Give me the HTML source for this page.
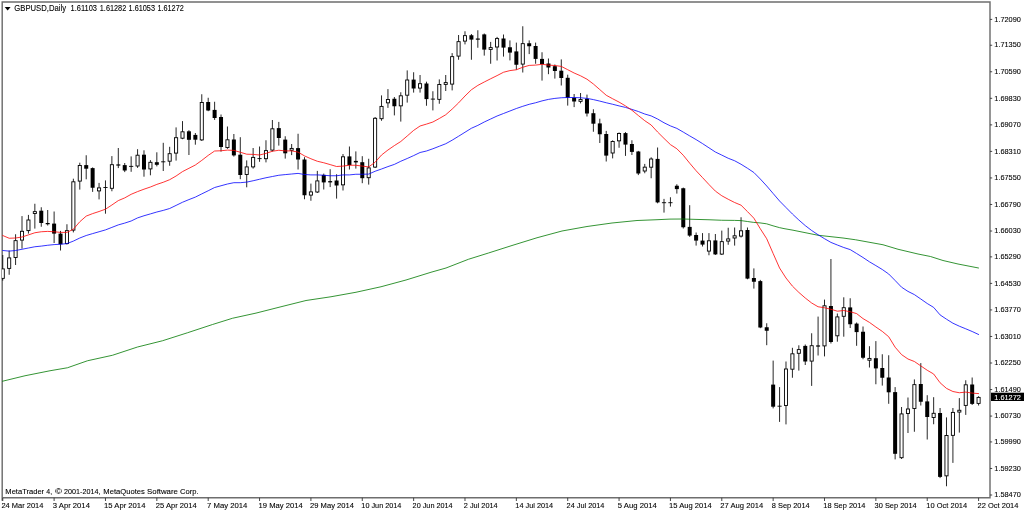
<!DOCTYPE html>
<html><head><meta charset="utf-8"><title>GBPUSD,Daily</title>
<style>
html,body{margin:0;padding:0;background:#fff;overflow:hidden}
svg{display:block}
text{font-family:"Liberation Sans",sans-serif;font-size:8px;fill:#000;stroke:#000;stroke-width:0.1px}
</style></head><body>
<svg width="1024" height="512" viewBox="0 0 1024 512">
<rect x="0" y="0" width="1024" height="512" fill="#fff"/>
<defs><clipPath id="c"><rect x="1.75" y="2.00" width="988.25" height="495.80"/></clipPath></defs>
<g fill="none" stroke="#6e6e6e" stroke-width="1.45">
<path d="M2.20 500.80V2.00H990.00V497.80H1.60"/>
</g>
<g clip-path="url(#c)" fill="none" stroke-linejoin="round" stroke-linecap="round">
<g stroke="#000" stroke-width="0.85" stroke-linecap="butt">
<path d="M2.75 255.00V280.60"/><path d="M9.17 250.50V274.75"/><path d="M15.59 234.25V265.00"/><path d="M22.01 216.10V248.60"/><path d="M28.43 214.90V233.60"/><path d="M34.85 203.75V228.60"/><path d="M41.27 207.25V226.75"/><path d="M47.69 210.00V225.50"/><path d="M54.11 211.50V243.00"/><path d="M60.53 230.90V250.50"/><path d="M66.95 224.25V244.50"/><path d="M73.37 178.70V232.40"/><path d="M79.79 162.70V189.60"/><path d="M86.21 155.25V179.30"/><path d="M92.63 167.40V191.90"/><path d="M99.05 182.90V199.40"/><path d="M105.47 180.40V213.70"/><path d="M111.89 156.10V191.25"/><path d="M118.31 148.00V168.10"/><path d="M124.73 163.00V172.10"/><path d="M131.15 156.40V171.80"/><path d="M137.57 149.20V167.90"/><path d="M143.99 150.30V176.70"/><path d="M150.41 160.10V175.30"/><path d="M156.83 152.30V166.40"/><path d="M163.25 142.80V171.00"/><path d="M169.67 146.80V165.75"/><path d="M176.09 127.40V160.60"/><path d="M182.51 121.10V139.20"/><path d="M188.93 130.20V155.00"/><path d="M195.35 133.00V144.70"/><path d="M201.77 94.25V141.00"/><path d="M208.19 97.75V111.20"/><path d="M214.61 101.75V119.90"/><path d="M221.03 114.50V151.60"/><path d="M227.45 126.50V148.80"/><path d="M233.87 134.00V156.60"/><path d="M240.29 137.20V179.20"/><path d="M246.71 160.40V187.30"/><path d="M253.13 148.00V168.60"/><path d="M259.55 146.50V161.80"/><path d="M265.97 140.25V162.40"/><path d="M272.39 120.00V151.50"/><path d="M278.81 121.90V145.60"/><path d="M285.23 136.25V158.60"/><path d="M291.65 144.00V155.10"/><path d="M298.07 133.75V169.50"/><path d="M304.49 157.20V199.25"/><path d="M310.91 183.60V200.75"/><path d="M317.33 170.90V193.00"/><path d="M323.75 173.60V189.50"/><path d="M330.17 169.25V187.10"/><path d="M336.59 174.25V198.60"/><path d="M343.01 154.00V190.50"/><path d="M349.43 146.50V169.50"/><path d="M355.85 151.40V168.60"/><path d="M362.27 156.20V183.20"/><path d="M368.69 158.75V184.60"/><path d="M375.11 117.00V168.00"/><path d="M381.53 95.40V120.75"/><path d="M387.95 89.10V107.90"/><path d="M394.37 97.00V115.40"/><path d="M400.79 92.25V121.60"/><path d="M407.21 70.40V102.60"/><path d="M413.63 72.25V92.60"/><path d="M420.05 75.00V92.60"/><path d="M426.47 81.70V105.75"/><path d="M432.89 91.25V110.40"/><path d="M439.31 79.40V103.75"/><path d="M445.73 75.00V91.00"/><path d="M452.15 53.10V90.40"/><path d="M458.57 35.00V59.75"/><path d="M464.99 31.25V44.40"/><path d="M471.41 34.00V59.75"/><path d="M477.83 30.25V47.75"/><path d="M484.25 33.50V55.60"/><path d="M490.67 41.90V63.75"/><path d="M497.09 36.90V60.50"/><path d="M503.51 34.50V56.60"/><path d="M509.93 40.40V60.40"/><path d="M516.35 42.60V69.75"/><path d="M522.77 26.25V72.50"/><path d="M529.19 40.40V54.10"/><path d="M535.61 42.60V63.75"/><path d="M542.03 52.25V80.60"/><path d="M548.45 58.50V74.20"/><path d="M554.87 64.50V78.60"/><path d="M561.29 59.40V85.50"/><path d="M567.71 74.70V105.60"/><path d="M574.13 94.00V107.10"/><path d="M580.55 93.00V103.40"/><path d="M586.97 94.60V116.50"/><path d="M593.39 109.25V131.75"/><path d="M599.81 118.70V143.00"/><path d="M606.23 130.90V161.50"/><path d="M612.65 140.30V158.40"/><path d="M619.07 132.50V147.75"/><path d="M625.49 132.10V155.90"/><path d="M631.91 140.25V155.00"/><path d="M638.33 150.90V175.10"/><path d="M644.75 163.90V173.25"/><path d="M651.17 157.30V178.25"/><path d="M657.59 147.50V203.30"/><path d="M664.01 198.90V212.60"/><path d="M670.43 197.25V206.60"/><path d="M676.85 184.25V193.60"/><path d="M683.27 187.60V228.50"/><path d="M689.69 205.20V236.90"/><path d="M696.11 232.50V245.60"/><path d="M702.53 233.10V246.50"/><path d="M708.95 233.10V255.25"/><path d="M715.37 234.00V255.00"/><path d="M721.79 230.60V255.00"/><path d="M728.21 227.75V244.75"/><path d="M734.63 227.50V245.60"/><path d="M741.05 217.25V237.50"/><path d="M747.47 227.50V279.25"/><path d="M753.89 268.40V288.60"/><path d="M760.31 279.90V328.20"/><path d="M766.73 323.25V345.20"/><path d="M773.15 360.60V408.40"/><path d="M779.57 387.10V421.90"/><path d="M785.99 361.50V424.40"/><path d="M792.41 347.80V377.75"/><path d="M798.83 345.30V370.60"/><path d="M805.25 344.50V365.00"/><path d="M811.67 333.25V385.90"/><path d="M818.09 316.60V355.50"/><path d="M824.51 299.60V356.40"/><path d="M830.93 259.00V343.50"/><path d="M837.35 313.50V341.70"/><path d="M843.77 297.30V336.70"/><path d="M850.19 298.25V328.00"/><path d="M856.61 322.50V345.80"/><path d="M863.03 326.50V359.25"/><path d="M869.45 346.20V367.50"/><path d="M875.87 341.10V384.25"/><path d="M882.29 354.25V385.60"/><path d="M888.71 355.25V403.80"/><path d="M895.13 387.10V459.40"/><path d="M901.55 407.00V459.00"/><path d="M907.97 397.50V433.00"/><path d="M914.39 379.40V431.75"/><path d="M920.81 363.10V405.50"/><path d="M927.23 395.20V439.50"/><path d="M933.65 397.20V424.25"/><path d="M940.07 408.00V478.10"/><path d="M946.49 417.40V486.25"/><path d="M952.91 408.00V462.90"/><path d="M959.33 398.10V432.60"/><path d="M965.75 380.25V414.90"/><path d="M972.17 377.50V405.00"/><path d="M978.59 396.20V405.50"/></g>
<g stroke="#000" stroke-width="0.9" stroke-linejoin="miter" stroke-linecap="butt">
<rect x="1.20" y="268.90" width="3.10" height="9.45" fill="#fff"/><rect x="7.62" y="257.90" width="3.10" height="10.50" fill="#fff"/><rect x="14.04" y="240.65" width="3.10" height="16.85" fill="#fff"/><rect x="20.46" y="231.30" width="3.10" height="8.80" fill="#fff"/><rect x="26.88" y="220.00" width="3.10" height="10.60" fill="#fff"/><rect x="33.30" y="211.65" width="3.10" height="1.80" fill="#fff"/><rect x="39.27" y="210.70" width="4.00" height="12.30" fill="#000" stroke="none"/><rect x="45.69" y="223.00" width="4.00" height="1.25" fill="#000" stroke="none"/><rect x="52.11" y="223.60" width="4.00" height="10.00" fill="#000" stroke="none"/><rect x="58.53" y="233.60" width="4.00" height="10.65" fill="#000" stroke="none"/><rect x="65.40" y="230.65" width="3.10" height="12.95" fill="#fff"/><rect x="71.82" y="181.80" width="3.10" height="48.30" fill="#fff"/><rect x="78.24" y="165.50" width="3.10" height="15.60" fill="#fff"/><rect x="84.21" y="165.10" width="4.00" height="3.60" fill="#000" stroke="none"/><rect x="90.63" y="168.10" width="4.00" height="19.65" fill="#000" stroke="none"/><rect x="97.50" y="187.90" width="3.10" height="3.00" fill="#fff"/><path d="M103.37 187.50H107.57" stroke-width="0.9"/><rect x="110.34" y="164.70" width="3.10" height="23.60" fill="#fff"/><rect x="116.31" y="164.40" width="4.00" height="1.20" fill="#000" stroke="none"/><rect x="122.73" y="165.10" width="4.00" height="5.40" fill="#000" stroke="none"/><path d="M129.05 166.40H133.25" stroke-width="0.9"/><rect x="136.02" y="155.20" width="3.10" height="10.80" fill="#fff"/><rect x="141.99" y="154.70" width="4.00" height="14.80" fill="#000" stroke="none"/><rect x="148.86" y="162.30" width="3.10" height="6.60" fill="#fff"/><rect x="154.83" y="162.20" width="4.00" height="2.60" fill="#000" stroke="none"/><path d="M161.15 161.80H165.35" stroke-width="0.9"/><rect x="168.12" y="153.70" width="3.10" height="7.50" fill="#fff"/><rect x="174.54" y="137.70" width="3.10" height="15.40" fill="#fff"/><rect x="180.96" y="131.80" width="3.10" height="6.40" fill="#fff"/><rect x="186.93" y="131.30" width="4.00" height="8.50" fill="#000" stroke="none"/><rect x="193.35" y="134.90" width="4.00" height="4.80" fill="#000" stroke="none"/><rect x="200.22" y="102.50" width="3.10" height="37.40" fill="#fff"/><rect x="206.19" y="102.00" width="4.00" height="8.50" fill="#000" stroke="none"/><rect x="212.61" y="109.90" width="4.00" height="8.10" fill="#000" stroke="none"/><rect x="219.03" y="117.00" width="4.00" height="30.00" fill="#000" stroke="none"/><rect x="225.90" y="139.80" width="3.10" height="7.80" fill="#fff"/><rect x="231.87" y="139.50" width="4.00" height="15.90" fill="#000" stroke="none"/><rect x="238.29" y="154.70" width="4.00" height="20.30" fill="#000" stroke="none"/><rect x="245.16" y="166.90" width="3.10" height="7.60" fill="#fff"/><rect x="251.58" y="157.40" width="3.10" height="9.50" fill="#fff"/><path d="M257.45 158.60H261.65" stroke-width="0.9"/><rect x="264.42" y="150.60" width="3.10" height="8.10" fill="#fff"/><rect x="270.84" y="128.80" width="3.10" height="21.30" fill="#fff"/><rect x="276.81" y="128.10" width="4.00" height="9.90" fill="#000" stroke="none"/><rect x="283.23" y="139.60" width="4.00" height="13.70" fill="#000" stroke="none"/><rect x="290.10" y="148.42" width="3.10" height="1.80" fill="#fff"/><rect x="296.07" y="148.10" width="4.00" height="11.40" fill="#000" stroke="none"/><rect x="302.49" y="159.50" width="4.00" height="35.75" fill="#000" stroke="none"/><rect x="309.36" y="191.90" width="3.10" height="3.20" fill="#fff"/><rect x="315.78" y="180.90" width="3.10" height="11.10" fill="#fff"/><rect x="321.75" y="174.90" width="4.00" height="7.50" fill="#000" stroke="none"/><rect x="328.17" y="181.10" width="4.00" height="1.30" fill="#000" stroke="none"/><rect x="334.59" y="180.50" width="4.00" height="5.00" fill="#000" stroke="none"/><rect x="341.46" y="156.80" width="3.10" height="28.05" fill="#fff"/><rect x="347.43" y="156.40" width="4.00" height="8.70" fill="#000" stroke="none"/><rect x="353.85" y="160.90" width="4.00" height="1.50" fill="#000" stroke="none"/><rect x="360.27" y="162.20" width="4.00" height="16.00" fill="#000" stroke="none"/><rect x="367.14" y="167.90" width="3.10" height="9.80" fill="#fff"/><rect x="373.56" y="118.30" width="3.10" height="48.80" fill="#fff"/><rect x="379.98" y="106.40" width="3.10" height="12.30" fill="#fff"/><rect x="386.40" y="99.50" width="3.10" height="3.35" fill="#fff"/><rect x="392.37" y="98.75" width="4.00" height="7.50" fill="#000" stroke="none"/><rect x="399.24" y="95.80" width="3.10" height="10.05" fill="#fff"/><rect x="405.66" y="80.00" width="3.10" height="15.20" fill="#fff"/><rect x="411.63" y="79.60" width="4.00" height="8.90" fill="#000" stroke="none"/><rect x="418.50" y="83.70" width="3.10" height="4.40" fill="#fff"/><rect x="424.47" y="83.50" width="4.00" height="15.60" fill="#000" stroke="none"/><path d="M430.79 99.10H434.99" stroke-width="0.9"/><rect x="437.76" y="84.50" width="3.10" height="14.85" fill="#fff"/><rect x="444.18" y="82.60" width="3.10" height="1.80" fill="#fff"/><rect x="450.60" y="56.65" width="3.10" height="27.45" fill="#fff"/><rect x="457.02" y="41.65" width="3.10" height="14.45" fill="#fff"/><rect x="463.44" y="35.65" width="3.10" height="5.45" fill="#fff"/><rect x="469.41" y="35.25" width="4.00" height="4.35" fill="#000" stroke="none"/><rect x="475.83" y="38.50" width="4.00" height="1.20" fill="#000" stroke="none"/><rect x="482.25" y="34.40" width="4.00" height="15.20" fill="#000" stroke="none"/><rect x="489.12" y="47.60" width="3.10" height="1.80" fill="#fff"/><rect x="495.54" y="38.60" width="3.10" height="8.40" fill="#fff"/><rect x="501.51" y="38.50" width="4.00" height="9.10" fill="#000" stroke="none"/><rect x="507.93" y="47.25" width="4.00" height="5.35" fill="#000" stroke="none"/><rect x="514.35" y="51.40" width="4.00" height="13.35" fill="#000" stroke="none"/><rect x="521.22" y="43.65" width="3.10" height="20.45" fill="#fff"/><rect x="527.19" y="43.25" width="4.00" height="3.00" fill="#000" stroke="none"/><rect x="533.61" y="46.00" width="4.00" height="12.90" fill="#000" stroke="none"/><rect x="540.03" y="58.90" width="4.00" height="5.20" fill="#000" stroke="none"/><rect x="546.45" y="63.50" width="4.00" height="4.00" fill="#000" stroke="none"/><rect x="552.87" y="66.20" width="4.00" height="4.80" fill="#000" stroke="none"/><rect x="559.29" y="70.70" width="4.00" height="7.30" fill="#000" stroke="none"/><rect x="565.71" y="77.80" width="4.00" height="19.95" fill="#000" stroke="none"/><rect x="572.13" y="97.75" width="4.00" height="3.75" fill="#000" stroke="none"/><rect x="579.00" y="99.55" width="3.10" height="1.80" fill="#fff"/><rect x="584.97" y="98.75" width="4.00" height="14.75" fill="#000" stroke="none"/><rect x="591.39" y="113.20" width="4.00" height="10.50" fill="#000" stroke="none"/><rect x="597.81" y="123.40" width="4.00" height="10.85" fill="#000" stroke="none"/><rect x="604.23" y="134.00" width="4.00" height="21.60" fill="#000" stroke="none"/><rect x="611.10" y="141.50" width="3.10" height="11.50" fill="#fff"/><rect x="617.52" y="133.50" width="3.10" height="7.35" fill="#fff"/><rect x="623.49" y="133.10" width="4.00" height="11.50" fill="#000" stroke="none"/><rect x="629.91" y="144.00" width="4.00" height="7.90" fill="#000" stroke="none"/><rect x="636.33" y="151.50" width="4.00" height="22.00" fill="#000" stroke="none"/><rect x="643.20" y="167.15" width="3.10" height="3.85" fill="#fff"/><rect x="649.62" y="159.00" width="3.10" height="8.20" fill="#fff"/><rect x="655.59" y="158.90" width="4.00" height="43.50" fill="#000" stroke="none"/><path d="M661.91 202.70H666.11" stroke-width="0.9"/><path d="M668.33 202.70H672.53" stroke-width="0.9"/><rect x="674.85" y="185.75" width="4.00" height="3.35" fill="#000" stroke="none"/><rect x="681.27" y="188.25" width="4.00" height="39.00" fill="#000" stroke="none"/><rect x="687.69" y="226.90" width="4.00" height="8.70" fill="#000" stroke="none"/><rect x="694.11" y="235.00" width="4.00" height="5.60" fill="#000" stroke="none"/><rect x="700.53" y="240.60" width="4.00" height="4.00" fill="#000" stroke="none"/><rect x="707.40" y="240.80" width="3.10" height="10.30" fill="#fff"/><rect x="713.37" y="240.40" width="4.00" height="14.00" fill="#000" stroke="none"/><rect x="720.24" y="241.65" width="3.10" height="12.45" fill="#fff"/><rect x="726.66" y="238.90" width="3.10" height="2.20" fill="#fff"/><rect x="733.08" y="235.80" width="3.10" height="2.20" fill="#fff"/><rect x="739.50" y="230.80" width="3.10" height="5.30" fill="#fff"/><rect x="745.47" y="230.00" width="4.00" height="48.60" fill="#000" stroke="none"/><rect x="751.89" y="278.00" width="4.00" height="3.75" fill="#000" stroke="none"/><rect x="758.31" y="281.10" width="4.00" height="46.40" fill="#000" stroke="none"/><rect x="764.73" y="327.25" width="4.00" height="3.50" fill="#000" stroke="none"/><rect x="771.15" y="384.60" width="4.00" height="22.10" fill="#000" stroke="none"/><path d="M777.47 406.20H781.67" stroke-width="0.9"/><rect x="784.44" y="369.00" width="3.10" height="36.50" fill="#fff"/><rect x="790.86" y="353.80" width="3.10" height="15.40" fill="#fff"/><rect x="797.28" y="349.60" width="3.10" height="3.70" fill="#fff"/><rect x="803.25" y="345.90" width="4.00" height="15.60" fill="#000" stroke="none"/><rect x="810.12" y="345.70" width="3.10" height="15.40" fill="#fff"/><rect x="816.09" y="345.40" width="4.00" height="1.20" fill="#000" stroke="none"/><rect x="822.96" y="305.80" width="3.10" height="40.10" fill="#fff"/><rect x="828.93" y="306.00" width="4.00" height="36.00" fill="#000" stroke="none"/><rect x="835.80" y="316.90" width="3.10" height="18.90" fill="#fff"/><rect x="842.22" y="307.70" width="3.10" height="8.60" fill="#fff"/><rect x="848.19" y="307.40" width="4.00" height="16.85" fill="#000" stroke="none"/><rect x="854.61" y="323.60" width="4.00" height="8.50" fill="#000" stroke="none"/><rect x="861.03" y="331.75" width="4.00" height="26.00" fill="#000" stroke="none"/><rect x="867.90" y="358.42" width="3.10" height="1.80" fill="#fff"/><rect x="873.87" y="358.20" width="4.00" height="10.20" fill="#000" stroke="none"/><rect x="880.29" y="368.00" width="4.00" height="9.75" fill="#000" stroke="none"/><rect x="886.71" y="377.50" width="4.00" height="14.80" fill="#000" stroke="none"/><rect x="893.13" y="392.10" width="4.00" height="61.70" fill="#000" stroke="none"/><rect x="900.00" y="413.90" width="3.10" height="43.80" fill="#fff"/><rect x="906.42" y="409.00" width="3.10" height="4.50" fill="#fff"/><rect x="912.84" y="384.65" width="3.10" height="23.85" fill="#fff"/><rect x="918.81" y="384.00" width="4.00" height="17.75" fill="#000" stroke="none"/><rect x="925.23" y="401.40" width="4.00" height="15.60" fill="#000" stroke="none"/><rect x="932.10" y="413.30" width="3.10" height="4.20" fill="#fff"/><rect x="938.07" y="413.00" width="4.00" height="63.90" fill="#000" stroke="none"/><rect x="944.94" y="435.50" width="3.10" height="40.35" fill="#fff"/><rect x="951.36" y="412.40" width="3.10" height="22.95" fill="#fff"/><rect x="957.78" y="410.27" width="3.10" height="1.80" fill="#fff"/><rect x="964.20" y="384.80" width="3.10" height="20.60" fill="#fff"/><rect x="970.17" y="384.50" width="4.00" height="19.40" fill="#000" stroke="none"/><rect x="977.04" y="397.40" width="3.10" height="6.00" fill="#fff"/></g>
<path d="M2.50 381.25 L25.00 375.75 L50.00 370.75 L67.50 367.75 L87.50 360.75 L112.50 355.25 L137.50 347.00 L162.50 340.75 L187.50 332.75 L212.50 324.50 L232.50 318.25 L256.00 313.10 L281.00 306.75 L306.00 300.50 L331.00 296.75 L356.00 292.25 L381.00 286.75 L406.00 280.00 L431.00 272.25 L446.00 268.00 L468.50 259.25 L488.50 253.00 L512.00 245.50 L537.00 237.75 L562.00 231.00 L587.00 226.50 L612.00 223.00 L637.00 220.50 L656.00 219.75 L670.00 219.10 L683.00 219.00 L696.00 219.40 L709.00 219.75 L721.60 220.25 L734.50 220.40 L741.00 220.60 L747.40 221.50 L753.75 222.40 L760.00 222.90 L766.60 223.80 L773.00 225.80 L779.40 227.60 L784.00 228.60 L793.00 230.20 L818.00 235.25 L843.00 238.00 L855.50 239.75 L883.00 244.75 L898.00 249.25 L918.00 254.00 L930.50 256.50 L943.00 260.50 L958.00 264.00 L978.50 268.00" stroke="#007800" stroke-width="0.8"/>
<path d="M2.75 250.50 L9.17 251.10 L15.59 250.50 L22.01 249.25 L28.43 248.00 L34.85 246.75 L41.27 246.10 L47.69 245.25 L54.11 244.60 L60.53 244.25 L66.95 243.60 L73.37 241.10 L79.79 238.00 L86.21 235.50 L92.63 233.60 L99.05 231.75 L105.47 229.90 L111.89 227.40 L118.31 224.90 L124.73 223.10 L131.15 221.00 L137.57 217.90 L143.99 215.75 L150.41 213.90 L156.83 212.00 L163.25 210.40 L169.67 208.50 L176.09 205.40 L182.51 202.25 L188.93 199.60 L195.35 197.10 L201.77 193.90 L208.19 190.75 L214.61 187.50 L221.03 185.75 L227.45 184.00 L233.87 182.70 L240.29 182.70 L246.71 182.10 L253.13 180.75 L259.55 179.25 L265.97 177.75 L272.39 176.50 L278.81 175.25 L285.23 174.60 L291.65 174.00 L298.07 173.40 L304.49 174.50 L310.91 174.90 L317.33 174.90 L323.75 175.25 L330.17 175.75 L336.59 175.75 L343.01 174.90 L349.43 174.90 L355.85 174.25 L362.27 174.25 L368.69 174.10 L375.11 171.25 L381.53 169.00 L387.95 166.60 L394.37 164.40 L400.79 161.25 L407.21 158.50 L413.63 155.60 L420.05 152.50 L426.47 151.00 L432.89 148.75 L439.31 146.25 L445.73 143.75 L452.15 140.20 L458.57 136.25 L464.99 132.25 L471.41 128.25 L477.83 125.40 L484.25 122.00 L490.67 119.00 L497.09 116.00 L503.51 113.50 L509.93 111.00 L516.35 108.50 L522.77 106.30 L529.19 104.30 L535.61 102.75 L542.03 100.90 L548.45 99.40 L554.87 98.40 L561.29 97.75 L567.71 97.50 L574.13 97.50 L580.55 97.75 L586.97 98.40 L593.39 99.60 L599.81 101.10 L606.23 102.75 L612.65 104.25 L619.07 105.90 L625.49 107.40 L631.91 109.40 L638.33 111.50 L644.75 114.00 L651.17 115.90 L657.59 119.00 L664.01 122.75 L670.43 125.90 L676.85 128.40 L683.27 132.10 L689.69 135.90 L696.11 139.60 L702.53 143.60 L708.95 147.80 L715.37 152.00 L721.79 155.10 L728.21 158.25 L734.63 160.75 L741.05 164.25 L747.47 168.25 L753.89 172.50 L760.31 179.00 L766.73 186.00 L773.15 193.50 L779.57 201.00 L785.99 207.50 L792.41 214.00 L798.83 220.00 L805.25 225.60 L811.67 230.50 L818.09 234.75 L824.51 238.70 L830.93 242.40 L837.35 245.00 L843.77 247.50 L850.19 249.60 L856.61 253.50 L863.03 257.50 L869.45 261.80 L875.87 265.60 L882.29 269.50 L888.71 274.00 L895.13 280.50 L901.55 287.20 L907.97 291.40 L914.39 294.60 L920.81 299.00 L927.23 303.50 L933.65 307.40 L940.07 314.90 L946.49 319.20 L952.91 323.20 L959.33 326.20 L965.75 328.80 L972.17 331.50 L978.59 334.50" stroke="#0000ff" stroke-width="0.8"/>
<path d="M2.75 235.50 L9.17 238.25 L15.59 238.00 L22.01 237.00 L28.43 234.90 L34.85 232.75 L41.27 231.75 L47.69 231.40 L54.11 231.75 L60.53 232.40 L66.95 232.40 L73.37 229.25 L79.79 221.75 L86.21 216.10 L92.63 213.60 L99.05 211.50 L105.47 209.20 L111.89 205.00 L118.31 200.60 L124.73 197.90 L131.15 194.30 L137.57 191.60 L143.99 189.20 L150.41 187.00 L156.83 184.40 L163.25 182.25 L169.67 179.70 L176.09 176.00 L182.51 171.60 L188.93 168.30 L195.35 165.00 L201.77 160.40 L208.19 155.40 L214.61 151.00 L221.03 150.75 L227.45 150.10 L233.87 150.40 L240.29 152.25 L246.71 154.20 L253.13 154.40 L259.55 155.00 L265.97 153.40 L272.39 151.25 L278.81 150.25 L285.23 150.90 L291.65 150.90 L298.07 152.10 L304.49 155.90 L310.91 158.75 L317.33 161.25 L323.75 162.75 L330.17 164.60 L336.59 166.50 L343.01 166.10 L349.43 165.25 L355.85 165.25 L362.27 166.10 L368.69 166.90 L375.11 162.25 L381.53 155.00 L387.95 150.00 L394.37 145.60 L400.79 141.50 L407.21 136.00 L413.63 130.40 L420.05 126.00 L426.47 124.10 L432.89 122.00 L439.31 118.50 L445.73 114.75 L452.15 109.10 L458.57 102.90 L464.99 96.00 L471.41 89.75 L477.83 85.40 L484.25 82.00 L490.67 78.75 L497.09 75.60 L503.51 72.25 L509.93 70.60 L516.35 69.75 L522.77 67.25 L529.19 65.40 L535.61 65.10 L542.03 64.30 L548.45 65.10 L554.87 65.50 L561.29 66.40 L567.71 69.70 L574.13 73.00 L580.55 75.80 L586.97 79.20 L593.39 84.00 L599.81 89.60 L606.23 95.25 L612.65 98.75 L619.07 102.10 L625.49 105.90 L631.91 110.25 L638.33 115.50 L644.75 120.70 L651.17 125.00 L657.59 132.00 L664.01 138.40 L670.43 144.60 L676.85 148.75 L683.27 155.25 L689.69 163.20 L696.11 170.75 L702.53 177.60 L708.95 184.50 L715.37 191.10 L721.79 195.75 L728.21 199.25 L734.63 202.50 L741.05 205.20 L747.47 211.60 L753.89 218.20 L760.31 228.75 L766.73 238.75 L773.15 253.50 L779.57 268.00 L785.99 278.00 L792.41 286.10 L798.83 292.40 L805.25 298.00 L811.67 303.00 L818.09 306.75 L824.51 307.75 L830.93 309.25 L837.35 311.20 L843.77 310.50 L850.19 311.75 L856.61 313.60 L863.03 318.60 L869.45 322.40 L875.87 327.00 L882.29 331.40 L888.71 336.75 L895.13 347.20 L901.55 354.60 L907.97 359.00 L914.39 361.50 L920.81 365.90 L927.23 370.25 L933.65 374.00 L940.07 382.75 L946.49 388.40 L952.91 391.50 L959.33 392.75 L965.75 392.10 L972.17 393.10 L978.59 393.60" stroke="#ff0000" stroke-width="0.8"/>
</g>
<g stroke="#333" stroke-width="0.9" fill="none">
<path d="M990.00 19.40H992.20"/><path d="M990.00 45.24H992.20"/><path d="M990.00 71.78H992.20"/><path d="M990.00 98.32H992.20"/><path d="M990.00 124.86H992.20"/><path d="M990.00 151.40H992.20"/><path d="M990.00 177.94H992.20"/><path d="M990.00 204.48H992.20"/><path d="M990.00 231.02H992.20"/><path d="M990.00 256.86H992.20"/><path d="M990.00 283.40H992.20"/><path d="M990.00 309.93H992.20"/><path d="M990.00 336.47H992.20"/><path d="M990.00 363.01H992.20"/><path d="M990.00 389.55H992.20"/><path d="M990.00 416.09H992.20"/><path d="M990.00 441.93H992.20"/><path d="M990.00 468.47H992.20"/><path d="M990.00 495.01H992.20"/><path d="M2.75 497.80V501.00"/><path d="M54.11 497.80V501.00"/><path d="M105.47 497.80V501.00"/><path d="M156.83 497.80V501.00"/><path d="M208.19 497.80V501.00"/><path d="M259.55 497.80V501.00"/><path d="M310.91 497.80V501.00"/><path d="M362.27 497.80V501.00"/><path d="M413.63 497.80V501.00"/><path d="M464.99 497.80V501.00"/><path d="M516.35 497.80V501.00"/><path d="M567.71 497.80V501.00"/><path d="M619.07 497.80V501.00"/><path d="M670.43 497.80V501.00"/><path d="M721.79 497.80V501.00"/><path d="M773.15 497.80V501.00"/><path d="M824.51 497.80V501.00"/><path d="M875.87 497.80V501.00"/><path d="M927.23 497.80V501.00"/><path d="M978.59 497.80V501.00"/></g>
<g>
<text x="994.3" y="21.60" textLength="26.6" lengthAdjust="spacingAndGlyphs">1.72090</text>
<text x="994.3" y="47.44" textLength="26.6" lengthAdjust="spacingAndGlyphs">1.71350</text>
<text x="994.3" y="73.98" textLength="26.6" lengthAdjust="spacingAndGlyphs">1.70590</text>
<text x="994.3" y="100.52" textLength="26.6" lengthAdjust="spacingAndGlyphs">1.69830</text>
<text x="994.3" y="127.06" textLength="26.6" lengthAdjust="spacingAndGlyphs">1.69070</text>
<text x="994.3" y="153.60" textLength="26.6" lengthAdjust="spacingAndGlyphs">1.68310</text>
<text x="994.3" y="180.14" textLength="26.6" lengthAdjust="spacingAndGlyphs">1.67550</text>
<text x="994.3" y="206.68" textLength="26.6" lengthAdjust="spacingAndGlyphs">1.66790</text>
<text x="994.3" y="233.22" textLength="26.6" lengthAdjust="spacingAndGlyphs">1.66030</text>
<text x="994.3" y="259.06" textLength="26.6" lengthAdjust="spacingAndGlyphs">1.65290</text>
<text x="994.3" y="285.60" textLength="26.6" lengthAdjust="spacingAndGlyphs">1.64530</text>
<text x="994.3" y="312.13" textLength="26.6" lengthAdjust="spacingAndGlyphs">1.63770</text>
<text x="994.3" y="338.67" textLength="26.6" lengthAdjust="spacingAndGlyphs">1.63010</text>
<text x="994.3" y="365.21" textLength="26.6" lengthAdjust="spacingAndGlyphs">1.62250</text>
<text x="994.3" y="391.75" textLength="26.6" lengthAdjust="spacingAndGlyphs">1.61490</text>
<text x="994.3" y="418.29" textLength="26.6" lengthAdjust="spacingAndGlyphs">1.60730</text>
<text x="994.3" y="444.13" textLength="26.6" lengthAdjust="spacingAndGlyphs">1.59990</text>
<text x="994.3" y="470.67" textLength="26.6" lengthAdjust="spacingAndGlyphs">1.59230</text>
<text x="994.3" y="497.21" textLength="26.6" lengthAdjust="spacingAndGlyphs">1.58470</text>
</g>
<rect x="991" y="392.7" width="33" height="8.3" fill="#000"/>
<text x="994.3" y="399.9" textLength="26.6" lengthAdjust="spacingAndGlyphs" style="fill:#fff;stroke:#fff">1.61272</text>
<g>
<text x="1.40" y="507.55" textLength="42.00" lengthAdjust="spacingAndGlyphs">24 Mar 2014</text>
<text x="52.85" y="507.55" textLength="37.05" lengthAdjust="spacingAndGlyphs">3 Apr 2014</text>
<text x="104.10" y="507.55" textLength="41.30" lengthAdjust="spacingAndGlyphs">15 Apr 2014</text>
<text x="155.85" y="507.55" textLength="40.80" lengthAdjust="spacingAndGlyphs">25 Apr 2014</text>
<text x="207.10" y="507.55" textLength="40.30" lengthAdjust="spacingAndGlyphs">7 May 2014</text>
<text x="258.60" y="507.55" textLength="44.05" lengthAdjust="spacingAndGlyphs">19 May 2014</text>
<text x="310.10" y="507.55" textLength="43.80" lengthAdjust="spacingAndGlyphs">29 May 2014</text>
<text x="361.35" y="507.55" textLength="40.05" lengthAdjust="spacingAndGlyphs">10 Jun 2014</text>
<text x="412.60" y="507.55" textLength="40.05" lengthAdjust="spacingAndGlyphs">20 Jun 2014</text>
<text x="463.85" y="507.55" textLength="33.80" lengthAdjust="spacingAndGlyphs">2 Jul 2014</text>
<text x="515.35" y="507.55" textLength="37.80" lengthAdjust="spacingAndGlyphs">14 Jul 2014</text>
<text x="566.60" y="507.55" textLength="37.80" lengthAdjust="spacingAndGlyphs">24 Jul 2014</text>
<text x="617.85" y="507.55" textLength="39.05" lengthAdjust="spacingAndGlyphs">5 Aug 2014</text>
<text x="669.10" y="507.55" textLength="42.55" lengthAdjust="spacingAndGlyphs">15 Aug 2014</text>
<text x="720.35" y="507.55" textLength="42.80" lengthAdjust="spacingAndGlyphs">27 Aug 2014</text>
<text x="771.85" y="507.55" textLength="37.80" lengthAdjust="spacingAndGlyphs">8 Sep 2014</text>
<text x="823.35" y="507.55" textLength="42.05" lengthAdjust="spacingAndGlyphs">18 Sep 2014</text>
<text x="874.60" y="507.55" textLength="42.05" lengthAdjust="spacingAndGlyphs">30 Sep 2014</text>
<text x="926.35" y="507.55" textLength="40.80" lengthAdjust="spacingAndGlyphs">10 Oct 2014</text>
<text x="977.60" y="507.55" textLength="40.80" lengthAdjust="spacingAndGlyphs">22 Oct 2014</text>
</g>
<path d="M4.7 7.1H10.6L7.65 10.6Z" fill="#000"/>
<text y="11.10" style="font-size:8.4px"><tspan x="14.35" textLength="51.65" lengthAdjust="spacingAndGlyphs">GBPUSD,Daily</tspan> <tspan x="70.60" textLength="26.40" lengthAdjust="spacingAndGlyphs">1.61103</tspan> <tspan x="99.80" textLength="26.40" lengthAdjust="spacingAndGlyphs">1.61282</tspan> <tspan x="128.60" textLength="26.40" lengthAdjust="spacingAndGlyphs">1.61053</tspan> <tspan x="157.40" textLength="26.40" lengthAdjust="spacingAndGlyphs">1.61272</tspan></text>
<text y="494.35"><tspan x="5.35" textLength="38.80" lengthAdjust="spacingAndGlyphs">MetaTrader</tspan> <tspan x="46.35" textLength="5.80" lengthAdjust="spacingAndGlyphs">4,</tspan> <tspan x="55.10" textLength="7.05" lengthAdjust="spacingAndGlyphs">©</tspan> <tspan x="64.10" textLength="36.30" lengthAdjust="spacingAndGlyphs">2001-2014,</tspan> <tspan x="103.35" textLength="41.55" lengthAdjust="spacingAndGlyphs">MetaQuotes</tspan> <tspan x="147.10" textLength="30.80" lengthAdjust="spacingAndGlyphs">Software</tspan> <tspan x="180.10" textLength="18.55" lengthAdjust="spacingAndGlyphs">Corp.</tspan></text>
</svg>
</body></html>
